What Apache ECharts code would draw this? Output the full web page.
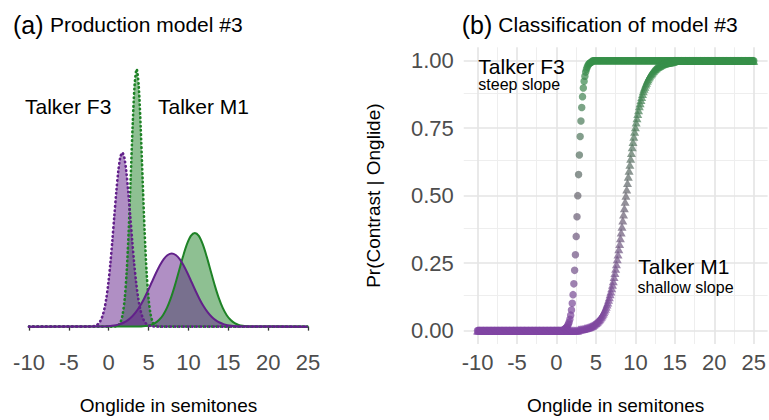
<!DOCTYPE html>
<html><head><meta charset="utf-8">
<script src="https://cdn.jsdelivr.net/npm/echarts@6/dist/echarts.min.js"></script>
<style>html,body{margin:0;padding:0;background:#fff}#c{width:769px;height:420px}</style>
</head><body><div id="c"></div>
<script>
// ---------- Panel (a): production densities ----------
const xTicks = [-10, -5, 0, 5, 10, 15, 20, 25];

// Talker F3, contrast (green, dotted)
const f3ContrastX = [-10, 0.5,0.75,1,1.25,1.5,1.75,2,2.25,2.5,2.75,3,3.25,3.5,3.75,4,4.25,4.5,4.75,5,5.25,5.5,5.75,6,6.25,6.5, 25];
const f3ContrastY = [0, 0.0001,0.0003,0.0011,0.0037,0.0106,0.0269,0.0603,0.1193,0.2084,0.3217,0.4386,0.5282,0.562,0.5282,0.4386,0.3217,0.2084,0.1193,0.0603,0.0269,0.0106,0.0037,0.0011,0.0003,0.0001, 0];

// Talker F3, no contrast (purple, dotted)
const f3NoContrastX = [-10, -2.55,-2.3,-2.05,-1.8,-1.55,-1.3,-1.05,-0.8,-0.55,-0.3,-0.05,0.2,0.45,0.7,0.95,1.2,1.45,1.7,1.95,2.2,2.45,2.7,2.95,3.2,3.45,3.7,3.95,4.2,4.45,4.7,4.95,5.2,5.45,5.7,5.95, 25];
const f3NoContrastY = [0, 0.0001,0.0003,0.0006,0.0015,0.0032,0.0064,0.0123,0.0224,0.0383,0.0619,0.0948,0.137,0.1871,0.2415,0.2944,0.3393,0.3694,0.38,0.3694,0.3393,0.2944,0.2415,0.1871,0.137,0.0948,0.0619,0.0383,0.0224,0.0123,0.0064,0.0032,0.0015,0.0006,0.0003,0.0001, 0];

// Talker M1, contrast (green, solid)
const m1ContrastX = [-10, 3.3,3.8,4.3,4.8,5.3,5.8,6.3,6.8,7.3,7.8,8.3,8.8,9.3,9.8,10.3,10.8,11.3,11.8,12.3,12.8,13.3,13.8,14.3,14.8,15.3,15.8,16.3,16.8,17.3,17.8,18.3, 25];
const m1ContrastY = [0, 0.0001,0.0003,0.0008,0.0018,0.0038,0.0076,0.0143,0.025,0.0409,0.0627,0.09,0.1209,0.1522,0.1794,0.198,0.2046,0.198,0.1794,0.1522,0.1209,0.09,0.0627,0.0409,0.025,0.0143,0.0076,0.0038,0.0018,0.0008,0.0003,0.0001, 0];

// Talker M1, no contrast (purple, solid)
const m1NoContrastX = [-10, -1.6,-1.1,-0.6,-0.1,0.4,0.9,1.4,1.9,2.4,2.9,3.4,3.9,4.4,4.9,5.4,5.9,6.4,6.9,7.4,7.9,8.4,8.9,9.4,9.9,10.4,10.9,11.4,11.9,12.4,12.9,13.4,13.9,14.4,14.9,15.4,15.9,16.4,16.9,17.4, 25];
const m1NoContrastY = [0, 0.0001,0.0002,0.0005,0.001,0.0018,0.0032,0.0054,0.009,0.0142,0.0216,0.0316,0.0444,0.0599,0.0777,0.0968,0.1159,0.1333,0.1473,0.1564,0.1596,0.1564,0.1473,0.1333,0.1159,0.0968,0.0777,0.0599,0.0444,0.0316,0.0216,0.0142,0.009,0.0054,0.0032,0.0018,0.001,0.0005,0.0002,0.0001, 0];

// ---------- Panel (b): classification ----------
const yTicks = [0, 0.25, 0.5, 0.75, 1];
const gridXMajor = [-10, -5, 0, 5, 10, 15, 20, 25];
const gridXMinor = [-7.5, -2.5, 2.5, 7.5, 12.5, 17.5, 22.5];
const gridYMajor = [0, 0.25, 0.5, 0.75, 1];
const gridYMinor = [0.125, 0.375, 0.625, 0.875];

const onglide = [
-10,-9.9,-9.8,-9.7,-9.6,-9.5,-9.4,-9.3,-9.2,-9.1,
-9,-8.9,-8.8,-8.7,-8.6,-8.5,-8.4,-8.3,-8.2,-8.1,
-8,-7.9,-7.8,-7.7,-7.6,-7.5,-7.4,-7.3,-7.2,-7.1,
-7,-6.9,-6.8,-6.7,-6.6,-6.5,-6.4,-6.3,-6.2,-6.1,
-6,-5.9,-5.8,-5.7,-5.6,-5.5,-5.4,-5.3,-5.2,-5.1,
-5,-4.9,-4.8,-4.7,-4.6,-4.5,-4.4,-4.3,-4.2,-4.1,
-4,-3.9,-3.8,-3.7,-3.6,-3.5,-3.4,-3.3,-3.2,-3.1,
-3,-2.9,-2.8,-2.7,-2.6,-2.5,-2.4,-2.3,-2.2,-2.1,
-2,-1.9,-1.8,-1.7,-1.6,-1.5,-1.4,-1.3,-1.2,-1.1,
-1,-0.9,-0.8,-0.7,-0.6,-0.5,-0.4,-0.3,-0.2,-0.1,
0,0.1,0.2,0.3,0.4,0.5,0.6,0.7,0.8,0.9,
1,1.1,1.2,1.3,1.4,1.5,1.6,1.7,1.8,1.9,
2,2.1,2.2,2.3,2.4,2.5,2.6,2.7,2.8,2.9,
3,3.1,3.2,3.3,3.4,3.5,3.6,3.7,3.8,3.9,
4,4.1,4.2,4.3,4.4,4.5,4.6,4.7,4.8,4.9,
5,5.1,5.2,5.3,5.4,5.5,5.6,5.7,5.8,5.9,
6,6.1,6.2,6.3,6.4,6.5,6.6,6.7,6.8,6.9,
7,7.1,7.2,7.3,7.4,7.5,7.6,7.7,7.8,7.9,
8,8.1,8.2,8.3,8.4,8.5,8.6,8.7,8.8,8.9,
9,9.1,9.2,9.3,9.4,9.5,9.6,9.7,9.8,9.9,
10,10.1,10.2,10.3,10.4,10.5,10.6,10.7,10.8,10.9,
11,11.1,11.2,11.3,11.4,11.5,11.6,11.7,11.8,11.9,
12,12.1,12.2,12.3,12.4,12.5,12.6,12.7,12.8,12.9,
13,13.1,13.2,13.3,13.4,13.5,13.6,13.7,13.8,13.9,
14,14.1,14.2,14.3,14.4,14.5,14.6,14.7,14.8,14.9,
15,15.1,15.2,15.3,15.4,15.5,15.6,15.7,15.8,15.9,
16,16.1,16.2,16.3,16.4,16.5,16.6,16.7,16.8,16.9,
17,17.1,17.2,17.3,17.4,17.5,17.6,17.7,17.8,17.9,
18,18.1,18.2,18.3,18.4,18.5,18.6,18.7,18.8,18.9,
19,19.1,19.2,19.3,19.4,19.5,19.6,19.7,19.8,19.9,
20,20.1,20.2,20.3,20.4,20.5,20.6,20.7,20.8,20.9,
21,21.1,21.2,21.3,21.4,21.5,21.6,21.7,21.8,21.9,
22,22.1,22.2,22.3,22.4,22.5,22.6,22.7,22.8,22.9,
23,23.1,23.2,23.3,23.4,23.5,23.6,23.7,23.8,23.9,
24,24.1,24.2,24.3,24.4,24.5,24.6,24.7,24.8,24.9,
25];

// Talker F3 (circles): steep slope
const f3Prob = [
0,0,0,0,0,0,0,0,0,0, 0,0,0,0,0,0,0,0,0,0,
0,0,0,0,0,0,0,0,0,0, 0,0,0,0,0,0,0,0,0,0,
0,0,0,0,0,0,0,0,0,0, 0,0,0,0,0,0,0,0,0,0,
0,0,0,0,0,0,0,0,0,0, 0,0,0,0,0,0,0,0,0,0,
0,0,0,0,0,0,0,0,0,0, 0,0,0,0,0,0,0,0,0,0,
0,0,0,0,0,0,0,0,0,0,
0.005,0.007,0.009,0.012,0.017,0.023,0.031,0.042,0.057,0.076,
0.101,0.133,0.173,0.223,0.281,0.349,0.422,0.5,0.578,0.651,
0.719,0.777,0.827,0.867,0.899,0.924,0.943,0.958,0.969,0.977,
0.983,0.988,0.991,0.993,0.995,0.996,
1,1,1,1,1,1,1,1,1,1, 1,1,1,1,1,1,1,1,1,1,
1,1,1,1,1,1,1,1,1,1, 1,1,1,1,1,1,1,1,1,1,
1,1,1,1,1,1,1,1,1,1, 1,1,1,1,1,1,1,1,1,1,
1,1,1,1,1,1,1,1,1,1, 1,1,1,1,1,1,1,1,1,1,
1,1,1,1,1,1,1,1,1,1, 1,1,1,1,1,1,1,1,1,1,
1,1,1,1,1,1,1,1,1,1, 1,1,1,1,1,1,1,1,1,1,
1,1,1,1,1,1,1,1,1,1, 1,1,1,1,1,1,1,1,1,1,
1,1,1,1,1,1,1,1,1,1, 1,1,1,1,1,1,1,1,1,1,
1,1,1,1,1,1,1,1,1,1, 1,1,1,1,1,1,1,1,1,1,
1,1,1,1,1,1,1,1,1,1, 1,1,1,1,1,1,1,1,1,1,
1,1,1,1,1];

// Talker M1 (triangles): shallow slope
const m1Prob = [
0,0,0,0,0,0,0,0,0,0, 0,0,0,0,0,0,0,0,0,0,
0,0,0,0,0,0,0,0,0,0, 0,0,0,0,0,0,0,0,0,0,
0,0,0,0,0,0,0,0,0,0, 0,0,0,0,0,0,0,0,0,0,
0,0,0,0,0,0,0,0,0,0, 0,0,0,0,0,0,0,0,0,0,
0,0,0,0,0,0,0,0,0,0, 0,0,0,0,0,0,0,0,0,0,
0,0,0,0,0,0,0,0,0,0, 0,0,0,0,0,0,0,0,0,0,
0,0,0,0,0,0,0,0,
0.004,0.004,0.004,0.005,0.005,0.006,0.006,0.007,0.008,0.008,
0.009,0.010,0.011,0.012,0.013,0.015,0.016,0.018,0.019,0.021,
0.023,0.026,0.028,0.031,0.033,0.037,0.040,0.044,0.048,0.052,
0.057,0.062,0.068,0.074,0.081,0.088,0.096,0.104,0.114,0.123,
0.134,0.145,0.157,0.170,0.183,0.198,0.213,0.229,0.246,0.264,
0.282,0.301,0.321,0.342,0.363,0.385,0.408,0.430,0.453,0.477,
0.5,
0.523,0.547,0.570,0.592,0.615,0.637,0.658,0.679,0.699,0.718,
0.737,0.754,0.771,0.787,0.803,0.817,0.831,0.843,0.855,0.866,
0.877,0.887,0.896,0.904,0.912,0.919,0.926,0.932,0.938,0.943,
0.948,0.952,0.956,0.960,0.963,0.967,0.970,0.972,0.975,0.977,
0.979,0.981,0.982,0.984,0.985,0.987,0.988,0.989,0.990,0.991,
0.992,0.992,0.993,0.994,0.994,0.995,0.995,0.996,0.996,0.996,
1,1,1,1,1,1,1,1,1,1, 1,1,1,1,1,1,1,1,1,1,
1,1,1,1,1,1,1,1,1,1, 1,1,1,1,1,1,1,1,1,1,
1,1,1,1,1,1,1,1,1,1, 1,1,1,1,1,1,1,1,1,1,
1,1,1,1,1,1,1,1,1,1, 1,1,1,1,1,1,1,1,1,1,
1,1,1,1,1,1,1,1,1,1, 1,1,1,1,1,1,1,1,1,1,
1,1];

// ---------- rendering ----------
const FONT = '"Liberation Sans", Arial, Helvetica, sans-serif';
const GREEN = '#1E8226';
const PURPLE = '#62208A';
const pairs = (xs, ys) => xs.map((x, i) => [x, ys[i]]);

const chart = echarts.init(document.getElementById('c'), null, {renderer: 'svg'});

function densitySeries(xs, ys, color, dotted) {
  return {
    type: 'line', xAxisIndex: 0, yAxisIndex: 0,
    data: pairs(xs, ys), showSymbol: false, symbol: 'none', smooth: 0.3,
    silent: true,
    lineStyle: dotted ? {color, width: 2.6, type: [0.5, 3.8], cap: 'round'} : {color, width: 2},
    areaStyle: {color, opacity: 0.5}
  };
}

const markItems = [];
gridXMinor.forEach(v => markItems.push({xAxis: v, lineStyle: {color: '#EEEEEE', width: 1, type: 'solid'}}));
gridYMinor.forEach(v => markItems.push({yAxis: v, lineStyle: {color: '#EEEEEE', width: 1, type: 'solid'}}));
gridXMajor.forEach(v => markItems.push({xAxis: v, lineStyle: {color: '#E4E4E4', width: 1.6, type: 'solid'}}));
gridYMajor.forEach(v => markItems.push({yAxis: v, lineStyle: {color: '#E4E4E4', width: 1.6, type: 'solid'}}));

const txt = (text, x, y, size, color) => ({
  type: 'text', x, y, silent: true, z: 100,
  style: {text, fill: color || '#000', font: size + 'px ' + FONT, align: 'left', verticalAlign: 'middle'}
});

chart.setOption({
  animation: false,
  backgroundColor: '#fff',
  grid: [
    {left: 15.05, top: 56.3, width: 306.95, height: 287.5},
    {left: 463.75, top: 47.3, width: 306.9, height: 301.4}
  ],
  xAxis: [
    {gridIndex: 0, type: 'value', min: -11.75, max: 26.75, offset: 5.5,
     axisLine: {show: false},
     axisTick: {show: true, length: 4, customValues: xTicks, lineStyle: {color: '#333', width: 1.3}},
     axisLabel: {customValues: xTicks, margin: 6.5, color: '#4D4D4D', fontSize: 22, fontFamily: FONT},
     splitLine: {show: false},
     name: 'Onglide in semitones', nameLocation: 'middle', nameGap: 51,
     nameTextStyle: {fontSize: 19, color: '#000', fontFamily: FONT}},
    {gridIndex: 1, type: 'value', min: -11.75, max: 26.75,
     axisLine: {show: false}, axisTick: {show: false},
     axisLabel: {customValues: xTicks, margin: 7, color: '#4D4D4D', fontSize: 22, fontFamily: FONT},
     splitLine: {show: false},
     name: 'Onglide in semitones', nameLocation: 'middle', nameGap: 52,
     nameTextStyle: {fontSize: 19, color: '#000', fontFamily: FONT}}
  ],
  yAxis: [
    {gridIndex: 0, type: 'value', min: -0.0281, max: 0.5901, show: false},
    {gridIndex: 1, type: 'value', min: -0.05, max: 1.05,
     axisLine: {show: false}, axisTick: {show: false}, splitLine: {show: false},
     axisLabel: {customValues: yTicks, formatter: v => Number(v).toFixed(2), margin: 10,
                 color: '#4D4D4D', fontSize: 22, fontFamily: FONT},
     name: 'Pr(Contrast | Onglide)', nameLocation: 'middle', nameRotate: 90, nameGap: 81,
     nameTextStyle: {fontSize: 19, color: '#000', fontFamily: FONT}}
  ],
  visualMap: {
    type: 'continuous', show: false, seriesIndex: [5, 6], dimension: 1, min: 0, max: 1,
    inRange: {color: ['#8146A3', '#68666F', '#37904A']}
  },
  series: [
    densitySeries(f3ContrastX, f3ContrastY, GREEN, true),
    densitySeries(m1ContrastX, m1ContrastY, GREEN, false),
    densitySeries(f3NoContrastX, f3NoContrastY, PURPLE, true),
    densitySeries(m1NoContrastX, m1NoContrastY, PURPLE, false),
    {type: 'line', xAxisIndex: 1, yAxisIndex: 1, data: [], silent: true, z: 0,
     markLine: {silent: true, symbol: 'none', animation: false, label: {show: false}, z: 0,
                emphasis: {disabled: true}, data: markItems}},
    {type: 'scatter', xAxisIndex: 1, yAxisIndex: 1, data: pairs(onglide, f3Prob), z: 10,
     symbol: 'circle', symbolSize: 7.5, silent: true, itemStyle: {opacity: 0.72}},
    {type: 'scatter', xAxisIndex: 1, yAxisIndex: 1, data: pairs(onglide, m1Prob), z: 11,
     symbol: 'triangle', symbolSize: [9, 8], silent: true, itemStyle: {opacity: 0.72}}
  ],
  graphic: [
    txt('(a)', 13, 24.5, 25),
    txt('Production model #3', 50, 24.7, 21),
    txt('(b)', 461.7, 24.5, 25),
    txt('Classification of model #3', 498.3, 24.7, 21),
    txt('Talker F3', 25, 106, 21),
    txt('Talker M1', 158, 106, 21),
    txt('Talker F3', 478.3, 66, 21),
    txt('steep slope', 478.3, 84.5, 16),
    txt('Talker M1', 638.3, 266.7, 21),
    txt('shallow slope', 637.5, 287.8, 16)
  ]
});
</script></body></html>
